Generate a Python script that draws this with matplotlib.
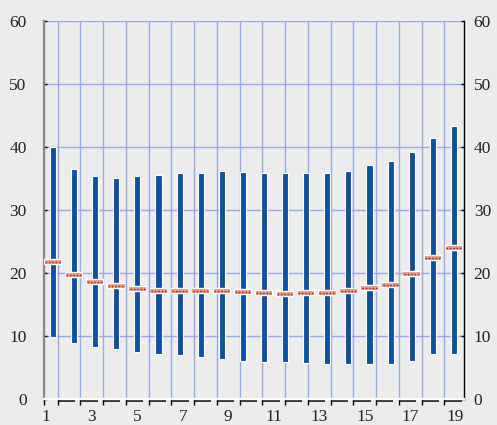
import numpy as np
import matplotlib
matplotlib.use('Agg')
import matplotlib.pyplot as plt

# range bars: low / high with the mean marked across each bar
lows = [9.8, 8.9, 8.2, 7.9, 7.4, 7.1, 6.9, 6.6, 6.4, 6.1,
        5.9, 5.8, 5.7, 5.6, 5.6, 5.55, 5.55, 6.1, 7.2, 7.2]
highs = [39.9, 36.4, 35.4, 35.1, 35.3, 35.6, 35.85, 35.85, 36.2, 36.0,
         35.85, 35.85, 35.85, 35.9, 36.2, 37.1, 37.75, 39.2, 41.4, 43.35]
means = [21.8, 19.6, 18.5, 17.9, 17.4, 17.2, 17.2, 17.1, 17.1, 16.9,
         16.75, 16.7, 16.75, 16.8, 17.1, 17.6, 18.1, 19.8, 22.4, 23.9]
categories = list(range(1, 20))
y_ticks = [0, 10, 20, 30, 40, 50, 60]

bg = '#ececec'
grid_c = '#9ba8e4'
bar_c = '#12509f'
font = dict(family='Liberation Serif', size=12.5, color='#222222')

fig = plt.figure(figsize=(4.97, 4.25), dpi=100, facecolor=bg)
ax = fig.add_axes([44 / 497, 26 / 425, 420 / 497, 378.3 / 425])
ax.set_facecolor(bg)

# category axis with boundaries between the numbers
ax.set_xlim(0.899, 19.368)
ax.set_ylim(0, 60)
bounds = [c + 0.5 for c in categories[:-1]]
ax.set_xticks(categories[::2])
ax.set_xticklabels([str(c) for c in categories[::2]], fontdict=font)
ax.set_xticks([0.899] + bounds, minor=True)
ax.set_yticks(y_ticks)
ax.set_yticklabels([str(v) for v in y_ticks], fontdict=font)
ax.grid(True, which='minor', axis='x', color=grid_c, linewidth=1)
ax.grid(True, which='major', axis='y', color=grid_c, linewidth=1)
ax.set_axisbelow(True)

ax.tick_params(axis='x', which='major', length=0, pad=7.5)
ax.tick_params(axis='x', which='minor', length=4, width=1, color='black', direction='out')
ax.tick_params(axis='y', which='major', direction='in', length=2, width=1, color='black',
               left=True, right=True, labelleft=True, labelright=False, pad=12.5)

ax.spines['top'].set_visible(False)
ax.spines['left'].set_color('#8a8a8a')
ax.spines['left'].set_linewidth(1.6)
ax.spines['right'].set_color('black')
ax.spines['right'].set_linewidth(1)
ax.spines['bottom'].set_color('white')
ax.spines['bottom'].set_linewidth(1.6)

# right-hand value labels sit closer to the frame
sec = ax.secondary_yaxis('right')
sec.set_yticks(y_ticks)
sec.set_yticklabels([str(v) for v in y_ticks], fontdict=font)
sec.tick_params(length=0, pad=7)
sec.spines['right'].set_visible(False)

# little black shelves running right from each boundary tick
for b in bounds:
    ax.plot([b, b + 0.76], [-0.005, -0.005], color='black', linewidth=1.1,
            transform=ax.get_xaxis_transform(), clip_on=False, solid_capstyle='butt')

# bars on their own evenly spaced slots
ax2 = ax.twiny()
ax2.set_xlim(0.573, 20.48)
ax2.set_ylim(0, 60)
ax2.axis('off')
pos = np.arange(1, len(lows) + 1)
ax2.bar(pos, np.array(highs) - np.array(lows), bottom=lows, width=0.29,
        color=bar_c, edgecolor='white', linewidth=0.8, zorder=3)
ax2.hlines(means, pos - 0.42, pos + 0.42, color='white', linewidth=4.6, zorder=4)
ax2.hlines(means, pos - 0.39, pos + 0.39, color='#e3a290', linewidth=2.8, zorder=5)
ax2.hlines(means, pos - 0.37, pos + 0.37, color='#b3261a', linewidth=1.0,
           linestyles=(0, (1.2, 1.2)), zorder=6)

fig.savefig('out.png', dpi=100, facecolor=bg)
